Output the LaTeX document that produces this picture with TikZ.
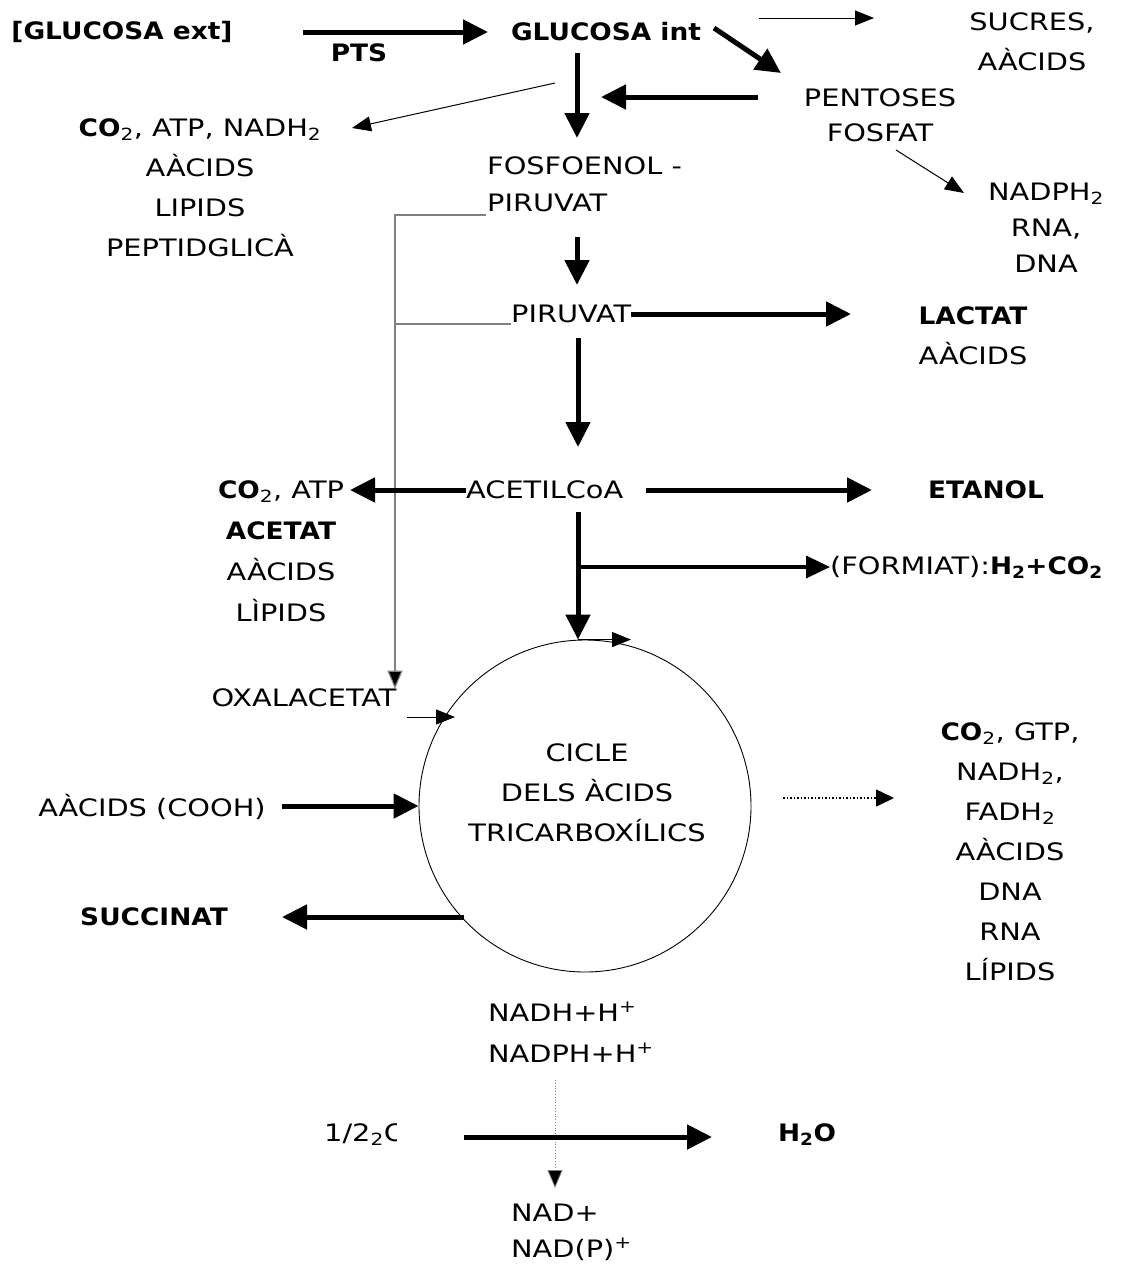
\documentclass[tikz,border=0pt]{standalone}
\usepackage{fontspec}
\setmainfont{DejaVu Sans}[UprightFeatures={FakeStretch=1.2},BoldFeatures={FakeStretch=1.1}]
\usetikzlibrary{arrows.meta}
\begin{document}
\begin{tikzpicture}[x=1pt,y=-1pt,
  txt/.style={font=\fontsize{24}{40}\selectfont, inner sep=0pt, align=center},
  big/.style={line width=5pt, -{Triangle[length=25pt,width=24pt]}},
  mid/.style={line width=3.5pt, -{Triangle[length=24pt,width=22pt]}},
  thinarr/.style={line width=1pt, -{Triangle[length=19pt,width=15pt]}},
  greyline/.style={draw=black!50, line width=1.2pt}]
\useasboundingbox (0,0) rectangle (1120,1270);
% nodes
\node[txt,font=\fontsize{24}{40}\selectfont\bfseries] (gext) at (122,32) {[GLUCOSA ext]};
\node[txt,font=\fontsize{24}{40}\selectfont\bfseries] (gint) at (606,32) {GLUCOSA int};
\node[txt,font=\fontsize{24}{40}\selectfont\bfseries] (pts) at (359,53) {PTS};
\node[txt] (sucres) at (1032,42) {SUCRES,\\AÀCIDS};
\node[txt] (cotp) at (200,188) {\textbf{CO}\textsubscript{2}, ATP, NADH\textsubscript{2}\\AÀCIDS\\LIPIDS\\PEPTIDGLICÀ};
\node[txt,font=\fontsize{24}{35}\selectfont] (pent) at (880,115) {PENTOSES\\FOSFAT};
\node[txt,font=\fontsize{24}{36}\selectfont] (nadph) at (1046,228) {NADPH\textsubscript{2}\\RNA,\\DNA};
\node[txt,align=left,anchor=west,font=\fontsize{24}{37}\selectfont] (pep) at (487,184) {FOSFOENOL -\\PIRUVAT};
\node[txt,anchor=west] (pir) at (511,314) {PIRUVAT};
\node[txt,font=\fontsize{24}{40}\selectfont] (lactat) at (973,336) {\textbf{LACTAT}\\AÀCIDS};
\node[txt,anchor=west] (acetil) at (466,490) {ACETILCoA};
\node[txt,font=\fontsize{24}{40}\selectfont\bfseries] (etanol) at (986,490) {ETANOL};
\node[txt,font=\fontsize{24}{41}\selectfont] (co2atp) at (281,551) {\textbf{CO}\textsubscript{2}, ATP\\\textbf{ACETAT}\\AÀCIDS\\LÌPIDS};
\node[txt,anchor=west] (formiat) at (830,567) {(FORMIAT):\textbf{H\textsubscript{2}+CO\textsubscript{2}}};
\node[txt] (oxa) at (304,698) {OXALACETAT};
\node[circle, draw, line width=0.9pt, minimum size=332pt, inner sep=0pt] (tca) at (585,806) {};
\node[txt] (cicle) at (587,793) {CICLE\\DELS ÀCIDS\\TRICARBOXÍLICS};
\node[txt] (aacids) at (152,807) {AÀCIDS (COOH)};
\node[txt,font=\fontsize{24}{40}\selectfont\bfseries] (succ) at (154,917) {SUCCINAT};
\node[txt,font=\fontsize{24}{40}\selectfont] (rlist) at (1010,852) {\textbf{CO}\textsubscript{2}, GTP,\\NADH\textsubscript{2},\\FADH\textsubscript{2}\\AÀCIDS\\DNA\\RNA\\LÍPIDS};
\node[txt,align=left,anchor=west,font=\fontsize{24}{41}\selectfont] (nadh) at (488,1032) {NADH+H\textsuperscript{+}\\NADPH+H\textsuperscript{+}};
\begin{scope}
\clip (300,1100) rectangle (396,1170);
\node[txt,anchor=west] (o2) at (324,1135) {1/2\textsubscript{2}O};
\end{scope}
\node[txt,font=\fontsize{24}{40}\selectfont\bfseries] (h2o) at (807,1135) {H\textsubscript{2}O};
\node[txt,align=left,anchor=west,font=\fontsize{24}{36}\selectfont] (nad) at (511,1232) {NAD+\\NAD(P)\textsuperscript{+}};
% connectors
\draw[big] (303,0 |- gext) -- (488,0 |- gext);
\draw[thinarr] (759,18) -- (874,18);
\draw[big] (714,28) -- (781,73);
\draw[big] (577,53) -- (577,138);
\draw[big] (758,97) -- (601,97);
\draw[thinarr] (555,83) -- (352,128);
\draw[thinarr] (896,150) -- (964,193);
\draw[big] (577,237) -- (577,285);
\draw[greyline] (486,215) -- (395,215) -- (395,655);
\draw[greyline] (511,324) -- (395,324);
\draw[line width=1.2pt, draw=black!50, -{Triangle[length=18pt,width=15pt,fill=black]}] (395,640) -- (oxa.north -| 395,0);
\draw[big] (pir.east) -- (851,0 |- pir.east);
\draw[big] (578,338) -- (578,447);
\draw[big] (acetil.west) -- (350,0 |- acetil.west);
\draw[big] (646,0 |- acetil) -- (872,0 |- acetil);
\draw[big] (578,512) -- (578,0 |- tca.north);
\draw[mid] (578,567) -- (formiat.west);
\draw[line width=1pt, -{Triangle[length=19pt,width=15pt]}] (578,0 |- tca.north) -- ++(53,0);
\draw[line width=1pt, -{Triangle[length=19pt,width=15pt]}] (407,717) -- (455,717);
\draw[big] (282,0 |- tca.west) -- (tca.west);
\draw[big] (464,917) -- (282,917);
\draw[line width=1.5pt, dotted, -{Triangle[length=18pt,width=17pt]}] (783,798) -- (894,798);
\draw[line width=0.8pt, draw=black!50, dotted, -{Triangle[length=18pt,width=15pt,fill=black]}] (555,1080) -- (555,1188);
\draw[big] (464,1137) -- (712,1137);
\end{tikzpicture}
\end{document}
